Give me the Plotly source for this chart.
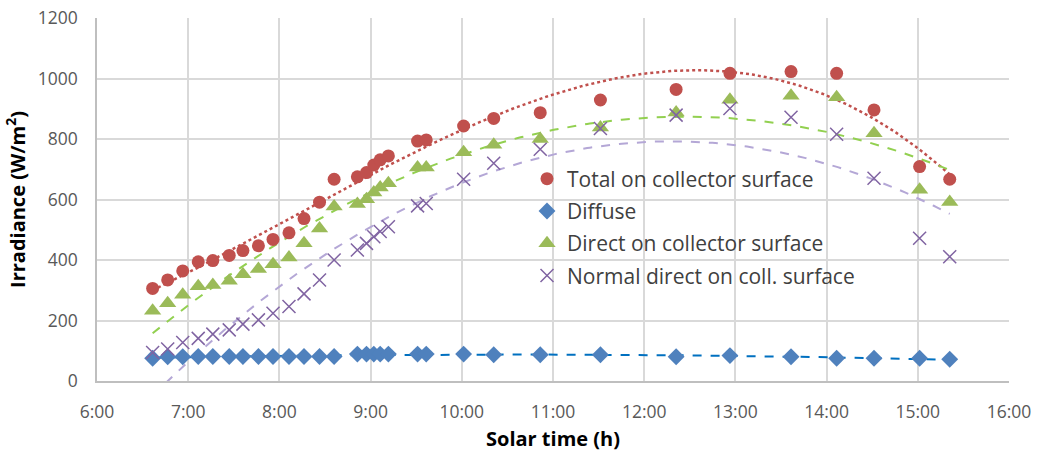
import numpy as np
import plotly.graph_objects as go

# Solar time in hours (decimal)
times = [6.61, 6.775, 6.94, 7.11, 7.27, 7.45, 7.60, 7.77, 7.93, 8.105, 8.27, 8.44, 8.60,
         8.855, 8.955, 9.035, 9.105, 9.195, 9.515, 9.61, 10.02, 10.35, 10.86, 11.52,
         12.35, 12.94, 13.61, 14.11, 14.52, 15.02, 15.35]

total = [306, 334, 364, 394, 398, 415, 431, 447, 468, 490, 537, 591, 667,
         675, 689, 714, 731, 744, 793, 797, 843, 868, 887, 929,
         964, 1017, 1023, 1017, 896, 709, 667]

diffuse = [75, 80, 80, 81, 81, 81, 81, 81, 81, 81, 81, 81, 81,
           89, 89, 89, 89, 89, 89, 89, 89, 87, 87, 87,
           80, 84, 80, 75, 75, 75, 72]

direct = [232, 257, 285, 313, 317, 331, 353, 370, 386, 408, 455, 504, 577,
          585, 601, 623, 640, 654, 706, 706, 756, 781, 800, 838,
          888, 930, 943, 938, 819, 632, 592]

normal = [94, 106, 127, 141, 155, 169, 188, 202, 224, 246, 288, 334, 400,
          433, 455, 477, 494, 510, 579, 587, 667, 720, 766, 835,
          879, 901, 872, 816, 670, 472, 411]

series_names = ["Total on collector surface", "Diffuse",
                "Direct on collector surface", "Normal direct on coll. surface"]

tick_vals = [6, 7, 8, 9, 10, 11, 12, 13, 14, 15, 16]
tick_text = ["6:00", "7:00", "8:00", "9:00", "10:00", "11:00", "12:00",
             "13:00", "14:00", "15:00", "16:00"]

FONT = "Open Sans"
t = np.array(times)
grid = np.linspace(t.min(), t.max(), 300)

fig = go.Figure()

# polynomial trendlines computed from the data
trend_specs = [
    (total, 3, "#C0504D", "dot", 2.5),
    (diffuse, 2, "#0070C0", "dash", 2),
    (direct, 2, "#92D050", "dash", 2),
    (normal, 2, "#B4A7D6", "dash", 2),
]
for vals, deg, col, dash, w in trend_specs:
    coef = np.polyfit(t, np.array(vals, dtype=float), deg)
    fig.add_trace(go.Scatter(x=grid, y=np.polyval(coef, grid), mode="lines",
                             line=dict(color=col, dash=dash, width=w),
                             showlegend=False, hoverinfo="skip"))

marker_specs = [
    (total, dict(symbol="circle", size=13, color="#C0504D")),
    (diffuse, dict(symbol="diamond", size=13, color="#4F81BD")),
    (direct, dict(symbol="triangle-up", size=15, color="#9BBB59")),
    (normal, dict(symbol="x-thin", size=13, color="#8064A2",
                  line=dict(color="#8064A2", width=1.5))),
]
for i, (vals, mk) in enumerate(marker_specs):
    fig.add_trace(go.Scatter(x=times, y=vals, mode="markers", name=series_names[i],
                             marker=mk, legendgroup=f"g{i}"))

fig.update_layout(
    width=1038, height=454,
    margin=dict(l=97, r=29, t=18, b=73, autoexpand=False),
    paper_bgcolor="white", plot_bgcolor="white",
    font=dict(family=FONT, size=17.5, color="#595959"),
    legend=dict(x=0.4715, y=0.613, xanchor="left", yanchor="top",
                bgcolor="rgba(0,0,0,0)", traceorder="grouped", tracegroupgap=2,
                font=dict(family=FONT, size=21, color="#404040")),
    xaxis=dict(range=[6, 16], tickvals=tick_vals, ticktext=tick_text,
               showgrid=True, gridcolor="#D9D9D9", gridwidth=1.5,
               showline=True, linecolor="#BFBFBF", linewidth=1.5,
               zeroline=False, ticks="", ticklabelstandoff=14, automargin=False,
               tickfont=dict(size=17.5, color="#595959"),
               title=dict(text="Solar time (h)", standoff=10,
                          font=dict(family=FONT, size=20, color="black", weight="bold"))),
    yaxis=dict(range=[0, 1200], tickvals=[0, 200, 400, 600, 800, 1000, 1200],
               showgrid=True, gridcolor="#D9D9D9", gridwidth=1.5,
               showline=True, linecolor="#BFBFBF", linewidth=1.5,
               zeroline=False, ticks="", ticklabelstandoff=14, automargin=False,
               tickfont=dict(size=17.5, color="#595959"),
               title=dict(text="Irradiance (W/m<sup>2</sup>)", standoff=7,
                          font=dict(family=FONT, size=20, color="black", weight="bold"))),
)

fig.write_html("out.html")
